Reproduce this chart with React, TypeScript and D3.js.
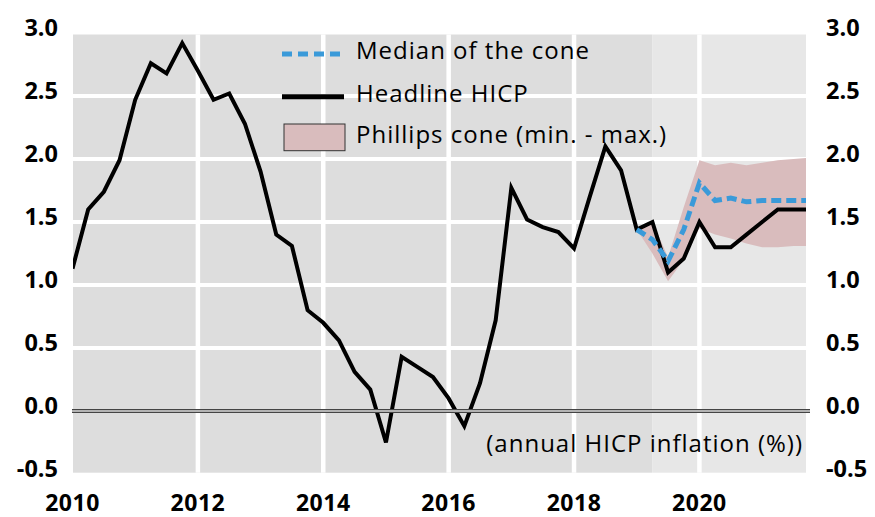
import React from "react";
import * as d3 from "d3";

const startYear = 2010;
const headline = [1.13,1.6,1.74,1.99,2.47,2.76,2.68,2.92,2.7,2.47,2.52,2.28,1.9,1.4,1.31,0.8,0.7,0.56,0.31,0.17,-0.25,0.43,0.35,0.27,0.1,-0.12,0.22,0.72,1.77,1.52,1.46,1.42,1.29,1.7,2.1,1.91,1.44,1.5,1.1,1.21,1.5,1.3,1.3,1.4,1.5,1.6,1.6,1.6];
const coneStartIndex = 36;
const coneUpper = [1.44,1.5,1.22,1.62,1.99,1.95,1.97,1.95,1.97,1.99,2.0,2.01];
const coneLower = [1.44,1.25,1.03,1.2,1.45,1.4,1.37,1.33,1.3,1.3,1.31,1.31];
const coneMedian = [1.44,1.36,1.19,1.44,1.81,1.67,1.69,1.66,1.67,1.67,1.67,1.67];
const yTicks = [-0.5,0,0.5,1,1.5,2,2.5,3];
const xTickYears = [2010,2012,2014,2016,2018,2020];
const projectionStart = 2019.25;
const legendLabels = ["Median of the cone","Headline HICP","Phillips cone (min. - max.)"];
const unitLabel = "(annual HICP inflation (%))";

const W = 875, H = 517;
const FONT = "'Open Sans', 'Noto Sans', sans-serif";

export default function App() {
  const x = d3.scaleLinear().domain([2010, 2021.7]).range([72.5, 806]);
  const y = d3.scaleLinear().domain([-0.5, 3]).range([474, 33]);
  const tq = (i: number) => startYear + i / 4;

  const headPts = headline.map((v, i) => [tq(i), v] as [number, number]);
  const line = d3.line<[number, number]>().x(d => x(d[0])).y(d => y(d[1]));
  const coneData = coneUpper.map((u, k) => ({ t: tq(coneStartIndex + k), u, l: coneLower[k], m: coneMedian[k] }));
  const area = d3.area<any>().x(d => x(d.t)).y0(d => y(d.l)).y1(d => y(d.u));
  const medLine = d3.line<any>().x(d => x(d.t)).y(d => y(d.m));

  const x0 = 73, x1 = x(2021.7), yTop = 34.5, yBot = 472.7;
  const xp = x(projectionStart);

  return (
    <svg width={W} height={H} style={{ position: "absolute", left: 0, top: 0, background: "#fff" }} fontFamily={FONT}>
      <defs>
        <clipPath id="plot"><rect x={x0} y={yTop} width={x1 - x0} height={yBot - yTop} /></clipPath>
      </defs>
      <rect x={x0} y={yTop} width={xp - x0} height={yBot - yTop} fill="#dddddd" />
      <rect x={xp} y={yTop} width={x1 - xp} height={yBot - yTop} fill="#e7e7e7" />
      {yTicks.filter(v => v > -0.5 && v < 3).map(v => (
        <line key={v} x1={x0} x2={x1} y1={y(v)} y2={y(v)} stroke="#fff" strokeWidth={4} />
      ))}
      {xTickYears.filter(t => t > 2010).map(t => (
        <line key={t} x1={x(t)} x2={x(t)} y1={yTop} y2={yBot} stroke="#fff" strokeWidth={4.5} />
      ))}
      <g clipPath="url(#plot)">
        <path d={area(coneData) || ""} fill="#d9bcbd" />
        <path d={line(headPts) || ""} fill="none" stroke="#000" strokeWidth={4} strokeLinejoin="miter" />
        <path d={medLine(coneData) || ""} fill="none" stroke="#3a9ad9" strokeWidth={5} strokeDasharray="10,5" />
      </g>
      <line x1={72} x2={810} y1={y(0)} y2={y(0)} stroke="#444" strokeWidth={4} />
      <line x1={72} x2={810} y1={y(0)} y2={y(0)} stroke="#d8d8d8" strokeWidth={1.6} />

      {yTicks.map(v => (
        <g key={v} fontWeight="bold" fontSize={23.5} fill="#000">
          <text x={58} y={y(v) + 3} textAnchor="end">{v.toFixed(1)}</text>
          <text x={826} y={y(v) + 3}>{v.toFixed(1)}</text>
        </g>
      ))}
      {xTickYears.map(t => (
        <text key={t} x={x(t)} y={510.5} textAnchor="middle" fontWeight="bold" fontSize={23} letterSpacing={0.5}>{t}</text>
      ))}
      <text x={803} y={451.7} textAnchor="end" fontSize={24} letterSpacing={1}>{unitLabel}</text>

      <g fontSize={24} letterSpacing={1}>
        <line x1={282} x2={342} y1={54} y2={54} stroke="#3a9ad9" strokeWidth={5} strokeDasharray="10,6" />
        <text x={356} y={59.3}>{legendLabels[0]}</text>
        <line x1={282} x2={344} y1={96.7} y2={96.7} stroke="#000" strokeWidth={5} />
        <text x={356} y={101.7}>{legendLabels[1]}</text>
        <rect x={284} y={124} width={61} height={26.7} fill="#d9bcbd" stroke="#333" strokeWidth={1} />
        <text x={356} y={143.3}>{legendLabels[2]}</text>
      </g>
    </svg>
  );
}
